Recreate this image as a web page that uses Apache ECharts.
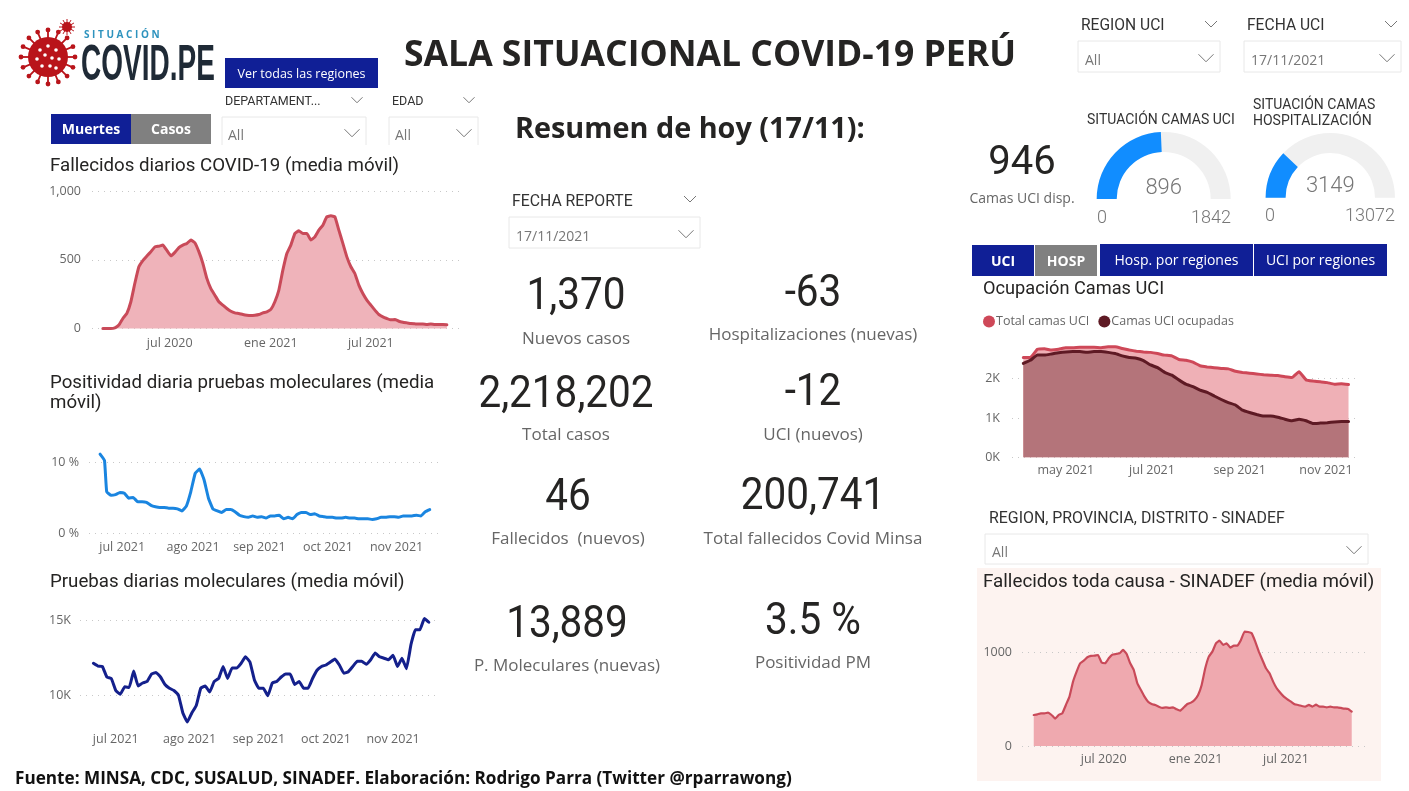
<!DOCTYPE html>
<html>
  <head>
    <meta charset="utf-8" />
    <title>Sala situacional COVID-19 Perú</title>
    <script src="https://cdn.jsdelivr.net/npm/echarts@6/dist/echarts.min.js"></script>
    <style>
      body { margin: 0; background: #fff; }
      #main { width: 1409px; height: 791px; }
    </style>
  </head>

  <body>
    <div id="main"></div>
    <script type="text/javascript">
      // ---------- datos ----------
      // fallecidos diarios covid, un valor por semana
      var fallecidosInicio = "2020-03-15";
      var fallecidos = [0, 0, 0, 5, 25, 73, 110, 195, 330, 450, 495, 528, 560, 595, 600, 608, 570, 530, 555, 590, 608, 620, 645, 625, 560, 475, 365, 290, 243, 195, 170, 146, 126, 114, 109, 102, 97, 95, 97, 102, 114, 122, 139, 195, 280, 425, 547, 608, 692, 712, 692, 692, 645, 668, 717, 753, 814, 821, 814, 717, 620, 522, 450, 401, 316, 255, 207, 170, 134, 102, 85, 73, 63, 65, 53, 46, 41, 36, 34, 32, 32, 29, 32, 29, 29, 29, 27];
      var fallecidosTicks = [["2020-07-10", "jul 2020"], ["2021-01-03", "ene 2021"], ["2021-06-27", "jul 2021"]];

      // positividad molecular, los dos primeros valores van aparte por la caida brusca
      var positividadPrimeros = [["2021-06-21", 11.2], ["2021-06-23", 10.3]];
      var positividadInicio = "2021-06-24";
      var positividad = [5.9, 5.4, 5.5, 5.8, 5.7, 5.0, 5.1, 4.5, 4.5, 4.4, 4.0, 3.8, 3.7, 3.7, 3.6, 3.6, 3.5, 3.2, 3.9, 5.9, 8.5, 9.1, 7.6, 5.0, 3.5, 3.2, 3.0, 3.4, 3.4, 3.1, 2.6, 2.4, 2.3, 2.5, 2.3, 2.4, 2.2, 2.5, 2.5, 2.6, 2.1, 2.3, 2.1, 2.7, 3.0, 3.0, 2.7, 2.8, 2.5, 2.4, 2.3, 2.3, 2.2, 2.2, 2.3, 2.2, 2.2, 2.1, 2.1, 2.1, 2.0, 2.1, 2.3, 2.3, 2.4, 2.4, 2.3, 2.5, 2.5, 2.5, 2.6, 2.5, 3.1, 3.4];
      var positividadTicks = [["2021-07-01", "jul 2021"], ["2021-08-02", "ago 2021"], ["2021-09-01", "sep 2021"], ["2021-10-02", "oct 2021"], ["2021-11-02", "nov 2021"]];

      // pruebas moleculares diarias, cada dos dias
      var pruebasInicio = "2021-06-21";
      var pruebas = [12110, 11930, 11900, 11200, 11100, 10300, 10050, 10550, 10500, 11600, 10600, 10800, 10900, 11400, 11500, 11200, 10700, 10450, 10300, 10000, 8800, 8200, 8800, 9300, 10450, 10600, 10200, 10900, 11100, 11900, 11100, 11800, 11800, 12100, 12550, 12200, 11000, 10450, 10450, 9950, 10800, 10900, 11200, 11400, 11400, 10700, 10900, 10450, 10450, 11100, 11650, 11900, 12000, 12200, 12400, 12000, 11450, 11550, 11900, 12250, 12250, 12050, 12350, 12800, 12550, 12450, 12350, 12650, 11900, 12450, 11750, 13350, 14350, 14350, 15100, 14850];
      var pruebasTicks = [["2021-07-01", "jul 2021"], ["2021-08-03", "ago 2021"], ["2021-09-03", "sep 2021"], ["2021-10-03", "oct 2021"], ["2021-11-02", "nov 2021"]];

      // camas uci, cada cinco dias
      var camasInicio = "2021-04-01";
      var camasTotal = [2540, 2540, 2750, 2760, 2730, 2750, 2790, 2790, 2800, 2800, 2800, 2790, 2810, 2810, 2770, 2730, 2700, 2680, 2670, 2640, 2600, 2580, 2490, 2470, 2420, 2330, 2300, 2280, 2260, 2250, 2190, 2160, 2140, 2120, 2100, 2090, 2080, 2050, 2030, 2180, 1970, 1940, 1920, 1900, 1860, 1870, 1850];
      var camasOcupadas = [2390, 2470, 2600, 2600, 2630, 2660, 2680, 2690, 2690, 2670, 2690, 2690, 2670, 2640, 2580, 2540, 2520, 2460, 2350, 2280, 2160, 2090, 1970, 1860, 1800, 1710, 1650, 1560, 1470, 1390, 1330, 1200, 1140, 1090, 1050, 1050, 1020, 970, 930, 970, 930, 860, 870, 880, 900, 910, 910];
      var camasTicks = [["2021-05-01", "may 2021"], ["2021-07-01", "jul 2021"], ["2021-09-01", "sep 2021"], ["2021-11-01", "nov 2021"]];

      // sinadef, un valor por semana
      var sinadefInicio = "2020-02-22";
      var sinadef = [331, 338, 349, 349, 356, 331, 292, 331, 349, 438, 527, 687, 794, 883, 911, 947, 961, 964, 971, 890, 883, 936, 975, 982, 989, 1025, 982, 883, 811, 669, 598, 527, 473, 448, 438, 420, 406, 413, 406, 413, 391, 377, 413, 448, 463, 491, 544, 651, 829, 954, 1007, 1096, 1125, 1078, 1096, 1050, 1071, 1071, 1132, 1221, 1217, 1203, 1114, 1007, 918, 829, 776, 687, 616, 569, 527, 498, 473, 445, 438, 427, 420, 438, 420, 441, 420, 420, 413, 420, 413, 413, 406, 399, 395, 367];
      var sinadefTicks = [["2020-07-08", "jul 2020"], ["2021-01-04", "ene 2021"], ["2021-06-30", "jul 2021"]];

      // tarjetas del resumen
      var kpiValores = ["1,370", "-63", "2,218,202", "-12", "46", "200,741", "13,889", "3.5 %"];
      var kpiNombres = ["Nuevos casos", "Hospitalizaciones (nuevas)", "Total casos", "UCI (nuevos)", "Fallecidos  (nuevos)", "Total fallecidos Covid Minsa", "P. Moleculares (nuevas)", "Positividad PM"];

      var camasUci = [896, 1842];
      var camasHosp = [3149, 13072];

      // ---------- ayudas ----------
      var DIN = "Roboto, sans-serif";
      var SEGOE = "'Open Sans', sans-serif";
      var AZUL = "#101F96";

      function fecha(s) {
        return new Date(s + "T00:00:00").getTime();
      }
      function conFechas(inicio, pasoDias, valores) {
        return valores.map(function (v, i) {
          return [fecha(inicio) + i * pasoDias * 86400000, v];
        });
      }
      function miles(v) {
        return v / 1000 + "K";
      }

      var graphic = [];
      function txt(x, y, text, size, color, font, weight, align, escala) {
        graphic.push({
          type: "text",
          silent: true,
          // el centro de las mayusculas queda sobre el centro de la caja de texto
          x: x, y: y + size * 0.1, scaleX: escala || 1,
          style: {
            x: 0, y: 0, text: text,
            fontSize: size, fontFamily: font || DIN, fontWeight: weight || "normal",
            fill: color || "#252423", textAlign: align || "left", textVerticalAlign: "middle",
          },
        });
      }
      function caja(x, y, w, h, fill, stroke) {
        graphic.push({
          type: "rect", silent: true,
          shape: { x: x, y: y, width: w, height: h },
          style: { fill: fill || "none", stroke: stroke || "none", lineWidth: 1 },
        });
      }
      function flecha(x, y, r) {
        graphic.push({
          type: "polyline", silent: true,
          shape: { points: [[x - r, y - r / 2], [x, y + r / 2], [x + r, y - r / 2]] },
          style: { fill: "none", stroke: "#777", lineWidth: 1 },
        });
      }
      function boton(x, y, w, h, text, fill, bold, size) {
        caja(x, y, w, h, fill);
        txt(x + w / 2, y + h / 2, text, size || 14, "#fff", SEGOE, bold ? "bold" : "normal", "center");
      }
      function filtro(x, y, w, h, texto, xt, yt) {
        caja(x, y, w, h, "#fff", "#E8E8E8");
        txt(xt, yt, texto, 14, "#777", SEGOE);
        flecha(x + w - 14, yt - 2, 7.5);
      }

      // ---------- textos y controles ----------
      // fondo de sinadef
      caja(977, 568, 404, 213, "#FDF3F0");

      // logo
      var cx = 48, cy = 57;
      for (var a = 0; a < 16; a++) {
        var ang = (a * Math.PI * 2) / 16;
        graphic.push({ type: "line", silent: true, shape: { x1: cx, y1: cy, x2: cx + 27 * Math.cos(ang), y2: cy + 27 * Math.sin(ang) }, style: { stroke: "#B9141A", lineWidth: 1.8 } });
        graphic.push({ type: "circle", silent: true, shape: { cx: cx + 27 * Math.cos(ang), cy: cy + 27 * Math.sin(ang), r: 2.4 }, style: { fill: "#B9141A" } });
      }
      graphic.push({ type: "circle", silent: true, shape: { cx: cx, cy: cy, r: 20 }, style: { fill: "#B9141A" } });
      [[-8, -7], [0, -11], [8, -7], [-11, 2], [-3, -2], [4, 1], [11, 2], [-6, 9], [2, 9], [8, 11]].forEach(function (p) {
        graphic.push({ type: "circle", silent: true, shape: { cx: cx + p[0], cy: cy + p[1], r: 1.8 }, style: { fill: "#fff" } });
      });
      for (var b = 0; b < 12; b++) {
        var ang2 = (b * Math.PI * 2) / 12;
        graphic.push({ type: "line", silent: true, shape: { x1: 67, y1: 27, x2: 67 + 8 * Math.cos(ang2), y2: 27 + 8 * Math.sin(ang2) }, style: { stroke: "#B9141A", lineWidth: 1 } });
      }
      graphic.push({ type: "circle", silent: true, shape: { cx: 67, cy: 27, r: 5 }, style: { fill: "#B9141A" } });
      txt(84, 34, "S I T U A C I Ó N", 10, "#2E93BE", SEGOE, "bold");
      txt(81, 61, "COVID.PE", 50, "#1F2A36", "'Liberation Sans', sans-serif", "bold", "left", 0.56);

      txt(710, 52, "SALA SITUACIONAL COVID-19 PERÚ", 35.5, "#252423", SEGOE, "bold", "center");
      txt(515, 127, "Resumen de hoy (17/11):", 28.8, "#252423", SEGOE, "bold");

      boton(225, 58, 153, 30, "Ver todas las regiones", AZUL, false, 12.5);
      boton(51, 114, 80, 30, "Muertes", AZUL, true);
      boton(131, 114, 80, 30, "Casos", "#808080", true);

      txt(225, 101, "DEPARTAMENT...", 12.5, "#333");
      flecha(357, 100, 5.5);
      txt(392, 101, "EDAD", 12.5, "#333");
      flecha(469, 100, 5.5);
      filtro(222, 117, 144, 34, "All", 228, 135);
      filtro(389, 117, 89, 34, "All", 395, 135);
      caja(215, 145, 270, 10, "#fff");

      txt(50, 164, "Fallecidos diarios COVID-19 (media móvil)", 18.7);
      txt(50, 381, "Positividad diaria pruebas moleculares (media", 18.7);
      txt(50, 401, "móvil)", 18.7);
      txt(50, 580, "Pruebas diarias moleculares (media móvil)", 18.7);

      txt(512, 200, "FECHA REPORTE", 15.8, "#333");
      flecha(690, 199, 6);
      filtro(509, 217, 191, 31, "17/11/2021", 516, 236);

      var kpiPos = [[576, 294, 337], [813, 291, 333], [566, 392, 433], [813, 390, 433], [568, 495, 537], [813, 494, 537], [567, 622, 664], [813, 619, 661]];
      kpiValores.forEach(function (v, i) {
        txt(kpiPos[i][0], kpiPos[i][1], v, 44, "#252423", DIN, "normal", "center", 0.92);
        txt(kpiPos[i][0], kpiPos[i][2], kpiNombres[i], 17, "#666", SEGOE, "normal", "center");
      });

      txt(1081, 25, "REGION UCI", 15.6, "#333");
      flecha(1211, 24, 6);
      txt(1247, 25, "FECHA UCI", 15.6, "#333");
      flecha(1391, 24, 6);
      filtro(1078, 41, 142, 31, "All", 1085, 60);
      filtro(1244, 41, 157, 31, "17/11/2021", 1251, 60);

      txt(1022, 160, "946", 40, "#252423", DIN, "normal", "center");
      txt(1022, 198, "Camas UCI disp.", 14, "#666", SEGOE, "normal", "center");
      txt(1087, 119, "SITUACIÓN CAMAS UCI", 14, "#333");
      txt(1253, 104, "SITUACIÓN CAMAS", 14, "#333");
      txt(1253, 120, "HOSPITALIZACIÓN", 14, "#333");
      txt(1102, 217, "0", 18, "#777", DIN, "300", "center");
      txt(1231, 217, String(camasUci[1]), 18, "#777", DIN, "300", "right");
      txt(1270, 215, "0", 18, "#777", DIN, "300", "center");
      txt(1395, 215, String(camasHosp[1]), 18, "#777", DIN, "300", "right");

      boton(972, 245, 62, 31, "UCI", AZUL, true);
      boton(1035, 245, 62, 31, "HOSP", "#808080", true);
      boton(1100, 244, 153, 32, "Hosp. por regiones", AZUL);
      boton(1254, 244, 133, 32, "UCI por regiones", AZUL);

      txt(983, 288, "Ocupación Camas UCI", 18.2);
      txt(989, 517, "REGION, PROVINCIA, DISTRITO - SINADEF", 15.9, "#333");
      filtro(985, 534, 383, 30, "All", 992, 552);
      txt(983, 580, "Fallecidos toda causa - SINADEF (media móvil)", 18.8);

      txt(15, 777, "Fuente: MINSA, CDC, SUSALUD, SINADEF. Elaboración: Rodrigo Parra (Twitter @rparrawong)", 17.15, "#111", SEGOE, "bold");

      // ---------- paneles ----------
      var grids = [], xAxes = [], yAxes = [], series = [];

      function panel(p) {
        var i = grids.length;
        grids.push({ left: p.left, top: p.top, width: p.width, height: p.height });
        var ticks = p.ticks.map(function (t) { return fecha(t[0]); });
        // eje de valores con fechas en ms: en v6 el eje time no admite customValues
        xAxes.push({
          type: "value", gridIndex: i, min: fecha(p.desde), max: fecha(p.hasta),
          axisLine: { show: false }, axisTick: { show: false }, splitLine: { show: false },
          axisLabel: {
            customValues: ticks, hideOverlap: false, margin: p.margenX,
            color: "#666", fontSize: 12.5, fontFamily: SEGOE,
            formatter: function (v) {
              var k = ticks.indexOf(+v);
              return k >= 0 ? p.ticks[k][1] : "";
            },
          },
        });
        yAxes.push({
          type: "value", gridIndex: i, min: p.min, max: p.max,
          axisLine: { show: false }, axisTick: { show: false }, splitLine: { show: false },
          axisLabel: {
            customValues: p.lineas, margin: p.margenY,
            color: "#666", fontSize: 12.5, fontFamily: SEGOE, formatter: p.formato,
          },
        });
        p.lineasSerie.forEach(function (s, k) {
          var o = {
            type: "line", name: s.nombre, xAxisIndex: i, yAxisIndex: i, data: s.data,
            showSymbol: false, smooth: 0.1, z: 2 + k, clip: false,
            itemStyle: { color: s.color },
            lineStyle: { color: s.color, width: p.grosor, join: "round", cap: "round" },
          };
          if (s.area) o.areaStyle = { color: s.area, opacity: 1 };
          if (k == 0) {
            o.markLine = {
              silent: true, symbol: "none", z: 1, animation: false, label: { show: false },
              lineStyle: { color: "#C8C8C8", type: [1, 5], width: 1 },
              data: p.lineas.map(function (v) { return { yAxis: v }; }),
            };
          }
          series.push(o);
        });
      }

      panel({
        left: 92, top: 191.3, width: 368, height: 137.2, min: 0, max: 1000,
        desde: "2020-02-25", hasta: "2021-11-30", ticks: fallecidosTicks, lineas: [0, 500, 1000],
        margenX: 8, margenY: 11, grosor: 3,
        formato: function (v) { return v.toLocaleString("en-US"); },
        lineasSerie: [{ data: conFechas(fallecidosInicio, 7, fallecidos), color: "#C94A59", area: "#EFB3BA" }],
      });
      panel({
        left: 89, top: 448.5, width: 354, height: 85.2, min: 0, max: 12,
        desde: "2021-06-16", hasta: "2021-11-23", ticks: positividadTicks, lineas: [0, 10],
        margenX: 7, margenY: 10, grosor: 3,
        formato: function (v) { return v + " %"; },
        lineasSerie: [{ data: positividadPrimeros.map(function (p) { return [fecha(p[0]), p[1]]; }).concat(conFechas(positividadInicio, 2, positividad)), color: "#1A85E0" }],
      });
      panel({
        left: 80, top: 605, width: 360, height: 127.5, min: 7500, max: 16000,
        desde: "2021-06-15", hasta: "2021-11-23", ticks: pruebasTicks, lineas: [10000, 15000],
        margenX: 0, margenY: 9, grosor: 3, formato: miles,
        lineasSerie: [{ data: conFechas(pruebasInicio, 2, pruebas), color: "#14208C" }],
      });
      panel({
        left: 1012, top: 339.4, width: 345, height: 117.9, min: 0, max: 3000,
        desde: "2021-03-24", hasta: "2021-11-23", ticks: camasTicks, lineas: [0, 1000, 2000],
        margenX: 7, margenY: 12, grosor: 3, formato: miles,
        lineasSerie: [
          { nombre: "Total camas UCI", data: conFechas(camasInicio, 5, camasTotal), color: "#CE4858", area: "#EFB0B6" },
          { nombre: "Camas UCI ocupadas", data: conFechas(camasInicio, 5, camasOcupadas), color: "#5E1A24", area: "#B4747A" },
        ],
      });
      panel({
        left: 1022, top: 614.8, width: 343, height: 131.2, min: 0, max: 1400,
        desde: "2020-01-30", hasta: "2021-12-02", ticks: sinadefTicks, lineas: [0, 1000],
        margenX: 7, margenY: 10, grosor: 2.2, formato: String,
        lineasSerie: [{ data: conFechas(sinadefInicio, 7, sinadef), color: "#C94A59", area: "#EFA9AF" }],
      });

      function gauge(centro, radio, par) {
        series.push({
          type: "gauge", center: centro, radius: radio, startAngle: 180, endAngle: 0,
          min: 0, max: par[1], z: 3,
          progress: { show: true, width: 20, roundCap: false, itemStyle: { color: "#118DFF" } },
          axisLine: { roundCap: false, lineStyle: { width: 20, color: [[1, "#F0F0F0"]] } },
          pointer: { show: false }, anchor: { show: false }, title: { show: false },
          axisTick: { show: false }, splitLine: { show: false }, axisLabel: { show: false },
          detail: { offsetCenter: [0, -11], formatter: "{value}", color: "#777", fontSize: 22, fontFamily: DIN, fontWeight: 300 },
          data: [{ value: par[0] }],
        });
      }
      gauge([1163.7, 199], 67, camasUci);
      gauge([1330.3, 197.7], 64.7, camasHosp);

      var myChart = echarts.init(document.getElementById("main"));
      myChart.setOption({
        animation: false,
        backgroundColor: "#fff",
        grid: grids,
        xAxis: xAxes,
        yAxis: yAxes,
        legend: {
          data: ["Total camas UCI", "Camas UCI ocupadas"],
          left: 978, top: 310, icon: "circle", itemWidth: 12, itemHeight: 12, itemGap: 9,
          selectedMode: false,
          textStyle: { color: "#666", fontSize: 12.5, fontFamily: SEGOE, padding: [0, 0, 0, -4] },
        },
        graphic: graphic,
        series: series,
      });
    </script>
  </body>
</html>
